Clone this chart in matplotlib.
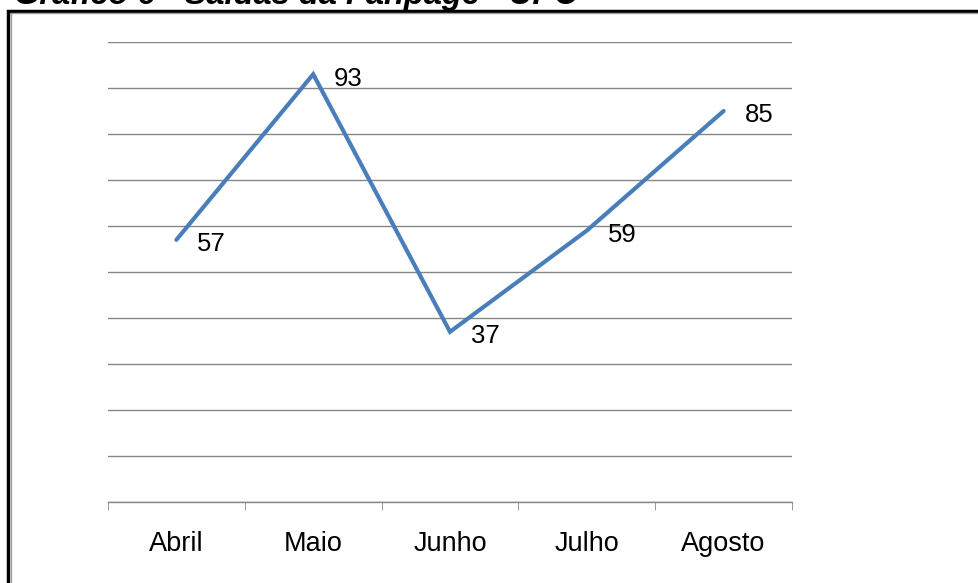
import matplotlib.pyplot as plt
from matplotlib.patches import Rectangle

months = ["Abril", "Maio", "Junho", "Julho", "Agosto"]
saidas = [57, 93, 37, 59, 85]
title = "Gráfico 6 - Saídas da Fanpage - UPC"

plt.rcParams['font.family'] = ['Liberation Sans', 'DejaVu Sans']

W, H = 979, 583
fig = plt.figure(figsize=(W / 100, H / 100), dpi=100)

# outer frame of the chart box (runs off the right and bottom edges)
fig.patches.append(Rectangle((8.5 / W, -0.05), 1.1, 1 - 10.5 / H + 0.05,
                             transform=fig.transFigure, fill=False,
                             edgecolor='black', linewidth=2.5))
fig.patches.append(Rectangle((11 / W, -0.05), 1.1, 1 - 13 / H + 0.05,
                             transform=fig.transFigure, fill=False,
                             edgecolor='#a0a0a0', linewidth=1))

# title, mostly cut off at the top
fig.text(14 / W, 1 - 4 / H, title, fontsize=23.5, fontstyle='italic',
         fontweight='bold', va='baseline', ha='left')

ax = fig.add_axes([108 / W, 1 - 502 / H, (792 - 108) / W, (502 - 42) / H])
x = list(range(len(months)))
ax.plot(x, saidas, color='#4a7ebb', linewidth=3, solid_capstyle='round',
        solid_joinstyle='miter')

for xi, v in zip(x, saidas):
    ax.annotate(str(v), (xi, v), xytext=(21, -2), textcoords='offset pixels',
                fontsize=18.5, ha='left', va='center_baseline')

ax.set_xlim(-0.5, len(months) - 0.5)
ax.set_ylim(0, 100)
ax.set_yticks(range(0, 101, 10))
ax.set_yticklabels([])
ax.tick_params(axis='y', length=0)
ax.grid(axis='y', color='#868686', linewidth=1)
ax.set_axisbelow(True)

ax.set_xticks(x)
ax.set_xticklabels(months, fontsize=19.5)
ax.set_xticks([i - 0.5 for i in range(len(months) + 1)], minor=True)
ax.tick_params(axis='x', which='major', length=0, pad=21)
ax.tick_params(axis='x', which='minor', length=6, color='#868686', direction='out')

for s in ['top', 'right', 'left']:
    ax.spines[s].set_visible(False)
ax.spines['bottom'].set_color('#868686')
ax.spines['bottom'].set_linewidth(1)

fig.savefig("out.png", dpi=100)
